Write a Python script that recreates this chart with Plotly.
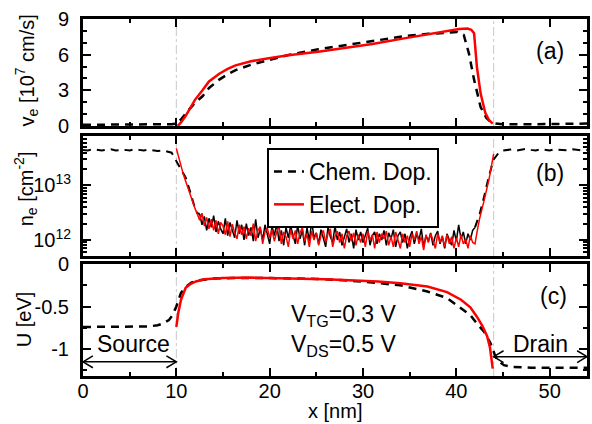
import numpy as np
import plotly.graph_objects as go

# ---------------- Panel (a): electron velocity [10^7 cm/s] ----------------
va_chem_x = [0, 2, 4, 6, 8, 9, 9.5, 10, 10.5, 11, 11.5, 12, 12.8, 13.5, 14.6, 15.5, 16.35, 18, 19.9, 22,
             25.2, 28, 31, 34.4, 37, 39, 40.1, 40.8, 41.35, 41.9, 42.6, 43.2, 43.65, 44.2, 45, 48, 51, 54]
va_chem = [0.1, 0.1, 0.1, 0.1, 0.1, 0.12, 0.15, 0.2, 0.55, 1.05, 1.5, 1.95, 2.5, 3.2, 3.9, 4.35, 4.7, 5.15, 5.55, 5.97,
           6.45, 6.8, 7.15, 7.55, 7.75, 7.85, 7.9, 7.65, 6.1, 3.9, 1.6, 0.7, 0.35, 0.2, 0.15, 0.15, 0.17, 0.2]
va_elec_x = [10.14, 10.5, 11, 11.5, 12, 12.8, 13.5, 14.6, 15.5, 16.35, 18, 19.9, 22, 25.2, 28, 31, 34.4, 37,
             39, 40.3, 41.2, 41.6, 41.9, 42.2, 42.6, 43.1, 43.5, 43.9]
va_elec = [0.0, 0.3, 0.85, 1.5, 2.2, 3.0, 3.75, 4.4, 4.8, 5.1, 5.45, 5.7, 5.95, 6.24, 6.55, 6.9, 7.37, 7.7,
           8.0, 8.15, 8.2, 8.1, 7.8, 5.0, 2.75, 1.1, 0.5, 0.2]

# ---------------- Panel (b): electron density [10^12 cm^-2] ----------------
nb_chem_left_x = [0, 0.5, 1, 1.5, 2, 2.5, 3, 3.5, 4, 4.5, 5, 5.5, 6, 6.5, 7, 7.5, 8, 8.5, 9, 9.5,
                  10, 10.5, 11, 11.5, 12, 12.25, 12.5]
nb_chem_left = [45, 44, 46, 45, 44, 45, 46, 44, 45, 45, 44, 46, 45, 44, 45, 44, 43, 44, 42, 40,
                28, 20, 14, 7.5, 3.8, 3.1, 3.0]
nb_chem_right_x = [42.0, 42.5, 43, 43.5, 44, 44.5, 45, 45.5, 46, 46.5, 47, 47.5, 48, 48.5, 49, 49.5, 50,
                   50.5, 51, 51.5, 52, 52.5, 53, 53.5, 54]
nb_chem_right = [1.7, 3.0, 6.5, 15, 30, 39, 44, 45, 46, 44, 45, 47, 45, 44, 46, 45, 44,
                 46, 45, 45, 44, 46, 45, 44, 45]
nb_elec_left_x = [10.0, 10.25, 10.5, 10.75, 11.0, 11.5, 12.0, 12.25]
nb_elec_left = [48, 32, 22, 16, 12, 6.5, 3.8, 3.0]
nb_elec_right_x = [42.25, 42.5, 43.0, 43.5, 44.0]
nb_elec_right = [1.5, 2.5, 5.5, 13, 38]

# channel region samples, x = 12.5 ... 42.0 nm every 0.25 nm
nb_noise_x = np.round(np.arange(12.5, 42.001, 0.25), 2)
nb_chem_noise = [
    3.0, 1.9, 2.7, 1.5, 2.5, 1.7, 2.8, 1.4, 2.2, 1.6,
    1.3, 2.5, 1.2, 2.1, 1.5, 1.1, 2.3, 1.3, 1.9, 1.0,
    2.0, 1.2, 1.7, 0.95, 2.4, 1.1, 1.6, 1.0, 1.9, 1.3,
    0.85, 1.8, 1.2, 2.0, 0.95, 1.5, 0.8, 1.7, 1.1, 1.8,
    1.2, 0.85, 1.9, 1.05, 1.5, 0.8, 1.7, 0.95, 2.2, 1.1,
    1.35, 0.85, 1.55, 1.05, 0.75, 1.7, 1.15, 0.9, 1.8, 1.0,
    1.4, 0.8, 1.2, 1.6, 0.9, 1.3, 0.7, 1.55, 1.0, 1.4,
    0.9, 1.25, 1.65, 0.8, 1.2, 1.4, 0.85, 1.3, 1.0, 1.5,
    0.8, 1.35, 1.05, 1.55, 0.75, 1.2, 1.4, 0.9, 1.3, 0.7,
    1.1, 1.45, 0.85, 1.3, 1.0, 1.6, 0.75, 1.2, 0.95, 1.35,
    0.8, 1.2, 1.45, 0.85, 1.15, 0.7, 1.3, 1.0, 0.8, 1.5,
    0.95, 1.9, 1.05, 1.4, 0.85, 1.3, 1.0, 1.5, 1.7]
nb_elec_noise = [
    2.3, 3.1, 1.8, 2.6, 1.6, 2.4, 1.5, 2.3, 1.3, 2.1,
    1.8, 1.25, 2.2, 1.15, 1.95, 1.35, 1.05, 1.9, 1.25, 1.75,
    1.05, 1.65, 1.2, 2.0, 0.95, 1.5, 1.75, 0.85, 1.4, 1.65,
    1.1, 1.55, 0.95, 1.4, 1.8, 0.85, 1.4, 1.15, 0.75, 1.55,
    1.05, 1.5, 0.85, 1.35, 1.7, 0.95, 1.3, 0.75, 1.45, 1.0,
    1.35, 0.8, 1.2, 1.5, 0.9, 1.3, 1.6, 0.75, 1.15, 1.45,
    0.9, 1.3, 0.7, 1.2, 1.45, 0.95, 1.35, 0.8, 1.25, 0.9,
    1.3, 0.75, 1.45, 1.0, 1.25, 0.7, 1.4, 0.9, 1.3, 1.05,
    1.45, 0.8, 1.15, 0.75, 1.4, 1.0, 0.7, 1.3, 0.9, 1.2,
    0.75, 1.3, 1.0, 1.45, 0.85, 1.15, 0.65, 1.25, 0.9, 1.3,
    1.0, 0.7, 1.3, 0.9, 1.2, 0.75, 1.25, 0.85, 1.15, 0.7,
    1.1, 0.75, 1.25, 0.85, 1.05, 0.7, 1.2, 0.9, 0.85]

# ---------------- Panel (c): potential energy U [eV] ----------------
uc_chem_x = [0, 2, 4, 6, 7, 8, 8.55, 9.2, 9.6, 10, 10.5, 11, 11.6, 12.5, 14, 16, 20, 25, 28, 31.6, 34,
             36.9, 39, 40.5, 41.5, 42.2, 43, 43.65, 44.2, 44.6, 45.1, 46, 48, 50, 52, 54]
uc_chem = [-0.74, -0.74, -0.74, -0.74, -0.735, -0.72, -0.70, -0.66, -0.60, -0.50, -0.34, -0.27, -0.22, -0.19,
           -0.17, -0.165, -0.165, -0.175, -0.19, -0.224, -0.25, -0.323, -0.40, -0.52, -0.60, -0.70, -0.80,
           -0.93, -1.09, -1.15, -1.19, -1.21, -1.22, -1.22, -1.22, -1.22]
uc_elec_x = [10.0, 10.2, 10.5, 11, 11.5, 12.1, 13, 15, 18, 22, 26, 31.6, 34, 36.9, 39, 40.5, 41.5,
             42.2, 42.8, 43.3, 43.6, 43.9]
uc_elec = [-0.74, -0.58, -0.42, -0.28, -0.235, -0.205, -0.18, -0.165, -0.16, -0.165, -0.178, -0.205,
           -0.225, -0.264, -0.33, -0.42, -0.51, -0.62, -0.73, -0.85, -0.98, -1.23]

FONT = "Liberation Sans, Arial, Helvetica, sans-serif"
DASH = "8px,6px"

fig = go.Figure()

# panel (a)
fig.add_trace(go.Scatter(x=va_chem_x, y=va_chem, mode="lines", xaxis="x3", yaxis="y3",
                         name="Chem. Dop.", legendgroup="chem",
                         line=dict(color="black", width=2.5, dash=DASH)))
fig.add_trace(go.Scatter(x=va_elec_x, y=va_elec, mode="lines", xaxis="x3", yaxis="y3",
                         name="Elect. Dop.", legendgroup="elec",
                         line=dict(color="#ff0000", width=2.5)))

# panel (b)
nb = lambda v: [u * 1e12 for u in v]
fig.add_trace(go.Scatter(x=nb_chem_left_x, y=nb(nb_chem_left), mode="lines", xaxis="x2", yaxis="y2",
                         showlegend=False, line=dict(color="black", width=2, dash=DASH)))
fig.add_trace(go.Scatter(x=list(nb_noise_x), y=nb(nb_chem_noise), mode="lines", xaxis="x2", yaxis="y2",
                         showlegend=False, line=dict(color="black", width=1.5)))
fig.add_trace(go.Scatter(x=nb_chem_right_x, y=nb(nb_chem_right), mode="lines", xaxis="x2", yaxis="y2",
                         showlegend=False, line=dict(color="black", width=2, dash=DASH)))
fig.add_trace(go.Scatter(x=nb_elec_left_x + list(nb_noise_x) + nb_elec_right_x,
                         y=nb(nb_elec_left + nb_elec_noise + nb_elec_right),
                         mode="lines", xaxis="x2", yaxis="y2",
                         showlegend=False, line=dict(color="#ff0000", width=1.5)))

# panel (c)
fig.add_trace(go.Scatter(x=uc_chem_x, y=uc_chem, mode="lines", xaxis="x", yaxis="y",
                         showlegend=False, line=dict(color="black", width=2.5, dash=DASH)))
fig.add_trace(go.Scatter(x=uc_elec_x, y=uc_elec, mode="lines", xaxis="x", yaxis="y",
                         showlegend=False, line=dict(color="#ff0000", width=2.5)))

axis_common = dict(showline=True, linewidth=3, linecolor="black", mirror="allticks",
                   ticks="inside", ticklen=8, tickwidth=2, tickcolor="black",
                   showgrid=False, zeroline=False,
                   tickfont=dict(family=FONT, size=20, color="black"))

xcommon = dict(axis_common, range=[0, 54], tickvals=[0, 10, 20, 30, 40, 50],
               minor=dict(dtick=5, tick0=0, ticks="inside", ticklen=4, tickwidth=2, tickcolor="black"))

# domains (paper fractions)
dom_a = [0.7003, 1.0]
dom_b = [0.3361, 0.6723]
dom_c = [0.0, 0.3137]

fig.update_layout(
    width=592, height=424,
    margin=dict(l=83, r=2, t=19, b=48, pad=0),
    paper_bgcolor="white", plot_bgcolor="white",
    font=dict(family=FONT, size=20, color="black"),
    xaxis=dict(xcommon, anchor="y", domain=[0, 1], ticklabelstandoff=-5),
    xaxis2=dict(xcommon, anchor="y2", matches="x", showticklabels=False),
    xaxis3=dict(xcommon, anchor="y3", matches="x", showticklabels=False),
    yaxis=dict(axis_common, domain=dom_c, range=[-1.317, 0], tickvals=[0, -0.5, -1],
               ticktext=["0", "-0.5", "-1"], ticklabelstandoff=7,
               minor=dict(dtick=0.25, tick0=0, ticks="inside", ticklen=4, tickwidth=2, tickcolor="black")),
    yaxis2=dict(axis_common, domain=dom_b, type="log", range=[11.706, 13.908],
                tickvals=[1e12, 1e13], ticktext=["10<sup>12</sup>", "10<sup>13</sup>"],
                ticklabelstandoff=5,
                minor=dict(dtick="D1", ticks="inside", ticklen=4, tickwidth=1.5, tickcolor="black")),
    yaxis3=dict(axis_common, domain=dom_a, range=[0, 9], tickvals=[0, 3, 6, 9], ticklabelstandoff=7,
                minor=dict(dtick=1, tick0=0, ticks="inside", ticklen=4, tickwidth=2, tickcolor="black")),
    legend=dict(x=0.365, y=0.6387, xanchor="left", yanchor="top",
                bgcolor="white", bordercolor="black", borderwidth=2,
                font=dict(family=FONT, size=23, color="black"),
                traceorder="normal", tracegroupgap=0),
)

# vertical dash-dot guides at x=10 and x=44 in every panel
for xa, ya in [("x", "y"), ("x2", "y2"), ("x3", "y3")]:
    for xv in [10, 44]:
        fig.add_shape(type="line", xref=xa, yref=ya + " domain", x0=xv, x1=xv, y0=0, y1=1,
                      line=dict(color="#c8c8c8", width=1, dash="dashdot"), layer="below")

# Source / Drain double arrows (panel c)
def double_arrow(x0, x1, yv):
    dx, dy = 1.06, 0.07
    fig.add_shape(type="line", xref="x", yref="y", x0=x0, x1=x1, y0=yv, y1=yv,
                  line=dict(color="black", width=1.5))
    fig.add_shape(type="path", xref="x", yref="y",
                  path=f"M {x0+dx} {yv+dy} L {x0} {yv} L {x0+dx} {yv-dy}",
                  line=dict(color="black", width=1.5))
    fig.add_shape(type="path", xref="x", yref="y",
                  path=f"M {x1-dx} {yv+dy} L {x1} {yv} L {x1-dx} {yv-dy}",
                  line=dict(color="black", width=1.5))

double_arrow(0.0, 10.0, -1.15)
double_arrow(44.0, 54.0, -1.09)

ann_font = dict(family=FONT, size=23, color="black")
title_font = dict(family=FONT, size=20, color="black")
annotations = [
    dict(text="(a)", x=50.05, y=6.27, xref="x3", yref="y3", showarrow=False, font=ann_font),
    dict(text="(b)", x=50.0, y=np.log10(1.7e13), xref="x2", yref="y2", showarrow=False, font=ann_font),
    dict(text="(c)", x=50.4, y=-0.374, xref="x", yref="y", showarrow=False, font=ann_font),
    dict(text="Source", x=5.4, y=-0.94, xref="x", yref="y", showarrow=False, font=ann_font),
    dict(text="Drain", x=49.0, y=-0.94, xref="x", yref="y", showarrow=False, font=ann_font),
    dict(text="V<sub>TG</sub>=0.3 V", x=27.9, y=-0.6, xref="x", yref="y", showarrow=False,
         font=dict(family=FONT, size=23, color="black")),
    dict(text="V<sub>DS</sub>=0.5 V", x=27.9, y=-0.96, xref="x", yref="y", showarrow=False,
         font=dict(family=FONT, size=23, color="black")),
    dict(text="x [nm]", x=0.5, y=-0.098, xref="paper", yref="paper", showarrow=False,
         font=title_font, xanchor="center", yanchor="middle"),
    dict(text="v<sub>e</sub> [10<sup>7</sup> cm/s]", x=(26 - 83) / 507, y=0.857, xref="paper", yref="paper",
         showarrow=False, textangle=-90, font=title_font, xanchor="center", yanchor="middle"),
    dict(text="n<sub>e</sub> [cm<sup>-2</sup>]", x=(26 - 83) / 507, y=0.524, xref="paper", yref="paper",
         showarrow=False, textangle=-90, font=title_font, xanchor="center", yanchor="middle"),
    dict(text="U [eV]", x=(24 - 83) / 507, y=0.160, xref="paper", yref="paper",
         showarrow=False, textangle=-90, font=title_font, xanchor="center", yanchor="middle"),
]
fig.update_layout(annotations=annotations)

fig.write_html("out.html")
